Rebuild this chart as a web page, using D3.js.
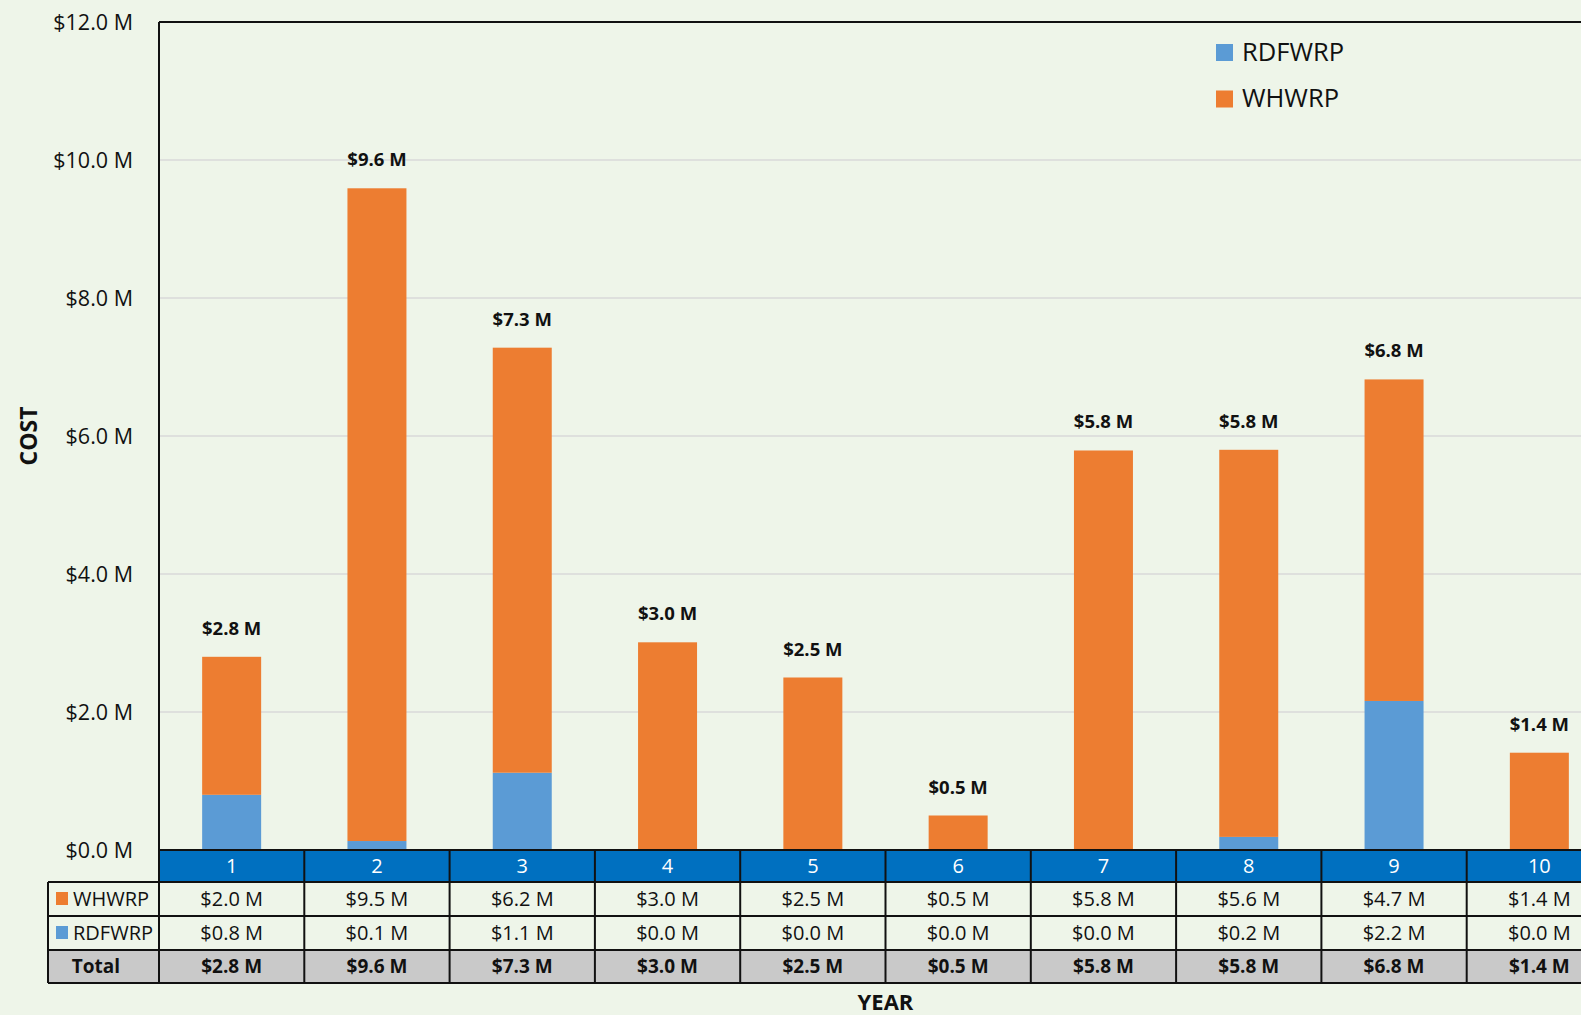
<!DOCTYPE html>
<html>
<head>
<meta charset="utf-8">
<script src="https://cdn.jsdelivr.net/npm/d3@7"></script>
<style>
  html, body { margin: 0; padding: 0; background: #EEF5E9; overflow: hidden; }
  svg { display: block; }
  text { font-family: "Open Sans", "Liberation Sans", sans-serif; fill: #111; }
</style>
</head>
<body>
<svg id="chart" width="1581" height="1015"></svg>
<script>
// ---- data ----
const years = ["1", "2", "3", "4", "5", "6", "7", "8", "9", "10"];
const whwrp = [2.00, 9.46, 6.16, 3.01, 2.50, 0.50, 5.79, 5.61, 4.66, 1.41];
const rdfwrp = [0.80, 0.13, 1.12, 0.00, 0.00, 0.00, 0.00, 0.19, 2.16, 0.00];
const yTicks = [0, 2, 4, 6, 8, 10, 12];
const seriesNames = ["RDFWRP", "WHWRP"];
const colors = { RDFWRP: "#5B9BD5", WHWRP: "#ED7D31" };

const fmt = v => "$" + (Math.round(v * 10 + 1e-9) / 10).toFixed(1) + " M";

const rows = years.map((yr, i) => ({ year: yr, RDFWRP: rdfwrp[i], WHWRP: whwrp[i], total: rdfwrp[i] + whwrp[i] }));

const svg = d3.select("#chart");
const plotLeft = 159, plotTop = 22, zeroY = 850;
const colW = 145.3;
const plotRight = plotLeft + colW * years.length;

svg.append("rect").attr("width", 1581).attr("height", 1015).attr("fill", "#EEF5E9");

const x = d3.scaleBand().domain(years).range([plotLeft, plotRight]).padding(0);
const y = d3.scaleLinear().domain([0, 12]).range([zeroY, plotTop]);
const barW = x.bandwidth() * 0.406;

// gridlines
svg.append("g").selectAll("line").data(yTicks.filter(t => t > 0 && t < 12)).join("line")
  .attr("x1", plotLeft).attr("x2", plotRight)
  .attr("y1", d => y(d)).attr("y2", d => y(d))
  .attr("stroke", "#D9D9D9").attr("stroke-width", 1.5);

// y axis labels
const yAxis = d3.axisLeft(y).tickValues(yTicks).tickFormat(d => "$" + d.toFixed(1) + " M").tickSize(0).tickPadding(0);
const yg = svg.append("g").attr("transform", `translate(133,0)`).call(yAxis);
yg.select(".domain").remove();
yg.selectAll("text").attr("font-size", 21.5).attr("font-family", "Open Sans").attr("fill", "#111").attr("dy", "0.35em");

// stacked bars
const stack = d3.stack().keys(seriesNames)(rows);
svg.append("g").selectAll("g").data(stack).join("g")
  .attr("fill", d => colors[d.key])
  .selectAll("rect").data(d => d).join("rect")
  .attr("x", d => x(d.data.year) + (x.bandwidth() - barW) / 2)
  .attr("width", barW)
  .attr("y", d => y(d[1]))
  .attr("height", d => Math.max(0, y(d[0]) - y(d[1])));

// total labels
svg.append("g").selectAll("text").data(rows).join("text")
  .attr("x", d => x(d.year) + x.bandwidth() / 2)
  .attr("y", d => y(d.total) - 22)
  .attr("text-anchor", "middle")
  .attr("font-size", 18.5).attr("font-weight", "bold")
  .text(d => fmt(d.total));

// plot border (left + top)
svg.append("line").attr("x1", plotLeft).attr("x2", plotLeft).attr("y1", plotTop).attr("y2", zeroY)
  .attr("stroke", "#111").attr("stroke-width", 2);
svg.append("line").attr("x1", plotLeft).attr("x2", plotRight).attr("y1", plotTop).attr("y2", plotTop)
  .attr("stroke", "#111").attr("stroke-width", 2);

// ---- data table ----
const hdrTop = 850, hdrBot = 882;
const rowEdges = [882, 916, 950, 983];
const labelLeft = 48;

svg.append("rect").attr("x", plotLeft).attr("y", hdrTop).attr("width", plotRight - plotLeft).attr("height", hdrBot - hdrTop)
  .attr("fill", "#0070C0");
svg.append("rect").attr("x", labelLeft).attr("y", rowEdges[2]).attr("width", plotRight - labelLeft).attr("height", rowEdges[3] - rowEdges[2])
  .attr("fill", "#C9C9C9");

svg.append("g").selectAll("text").data(years).join("text")
  .attr("x", d => x(d) + x.bandwidth() / 2).attr("y", (hdrTop + hdrBot) / 2)
  .attr("dy", "0.35em").attr("text-anchor", "middle").attr("font-size", 20)
  .style("fill", "#fff").text(d => d);

const tableRows = [
  { label: "WHWRP", key: "WHWRP", color: colors.WHWRP, bold: false },
  { label: "RDFWRP", key: "RDFWRP", color: colors.RDFWRP, bold: false },
  { label: "Total", key: "total", color: null, bold: true }
];

tableRows.forEach((r, ri) => {
  const cy = (rowEdges[ri] + rowEdges[ri + 1]) / 2;
  if (r.color) {
    svg.append("rect").attr("x", 56).attr("y", cy - 7).attr("width", 12).attr("height", 13).attr("fill", r.color);
    svg.append("text").attr("x", 73).attr("y", cy).attr("dy", "0.35em").attr("font-size", 20).text(r.label);
  } else {
    svg.append("text").attr("x", 96).attr("y", cy).attr("dy", "0.35em").attr("text-anchor", "middle")
      .attr("font-size", 19).attr("font-weight", "bold").text(r.label);
  }
  svg.append("g").selectAll("text").data(rows).join("text")
    .attr("x", d => x(d.year) + x.bandwidth() / 2).attr("y", cy).attr("dy", "0.35em")
    .attr("text-anchor", "middle").attr("font-size", r.bold ? 19 : 20)
    .attr("font-weight", r.bold ? "bold" : "normal")
    .text(d => fmt(d[r.key]));
});

const grid = svg.append("g").attr("stroke", "#111").attr("stroke-width", 2);
grid.append("line").attr("x1", plotLeft).attr("x2", plotRight).attr("y1", hdrTop).attr("y2", hdrTop);
rowEdges.forEach(ye => grid.append("line").attr("x1", labelLeft).attr("x2", plotRight).attr("y1", ye).attr("y2", ye));
grid.append("line").attr("x1", labelLeft).attr("x2", labelLeft).attr("y1", rowEdges[0]).attr("y2", rowEdges[3]);
years.forEach(yr => grid.append("line").attr("x1", x(yr)).attr("x2", x(yr)).attr("y1", hdrTop).attr("y2", rowEdges[3]));
grid.append("line").attr("x1", plotRight).attr("x2", plotRight).attr("y1", hdrTop).attr("y2", rowEdges[3]);

// axis titles
svg.append("text").attr("transform", "translate(37,436) rotate(-90)").attr("text-anchor", "middle")
  .attr("font-size", 23).attr("font-weight", "bold").text("COST");
svg.append("text").attr("x", (plotLeft + plotRight) / 2).attr("y", 1010).attr("text-anchor", "middle")
  .attr("font-size", 22).attr("font-weight", "bold").text("YEAR");

// legend
const legend = svg.append("g");
seriesNames.forEach((s, i) => {
  const ly = 44 + i * 46.5;
  legend.append("rect").attr("x", 1216).attr("y", ly).attr("width", 17).attr("height", 17).attr("fill", colors[s]);
  legend.append("text").attr("x", 1242).attr("y", ly + 16.5).attr("font-size", 25.5).text(s);
});
</script>
</body>
</html>
